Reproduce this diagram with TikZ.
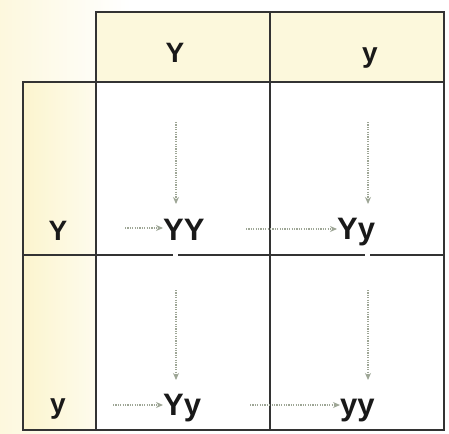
\documentclass[tikz,border=0pt]{standalone}
\usepackage{fontspec}
\setmainfont{Liberation Sans}
\usetikzlibrary{arrows.meta}
\definecolor{cream}{HTML}{FBF2C2}
\definecolor{hdr}{HTML}{FCF8DC}
\definecolor{gridc}{HTML}{333333}
\definecolor{arrc}{HTML}{9EA696}
\tikzset{
  grid/.style={draw=gridc, line width=1.8pt},
  lbl/.style={anchor=base west, inner sep=0pt, font=\fontsize{31}{32}\selectfont\bfseries, text=black!90},
  hlbl/.style={anchor=base, inner sep=0pt, font=\fontsize{28}{30}\selectfont\bfseries, text=black!90},
  arr/.style={draw=arrc, line width=2.2pt, dash pattern=on 1.2pt off 1.2pt, -{Stealth[length=7pt,width=6pt]}},
}
\begin{document}
\begin{tikzpicture}[x=1pt,y=-1pt]
\useasboundingbox (0,0) rectangle (449,433);
\fill[white] (0,0) rectangle (449,433);
\shade[left color=cream!55, middle color=cream, right color=white] (0,0) rectangle (130,433);
\fill[white] (96,82) rectangle (444,430);
% header cells
\shade[left color=hdr, middle color=white!60!hdr, right color=hdr] (96,12) rectangle (444,82);
% left column cells
\shade[left color=cream!80, middle color=white!50!cream, right color=white!70!cream] (23,82) rectangle (96,430);
% grid lines
\draw[grid] (96,12) rectangle (444,82);
\draw[grid] (270,12) -- (270,430);
\draw[grid] (23,82) rectangle (444,430);
\draw[grid] (96,82) -- (96,430);
\draw[grid] (23,255) -- (444,255);
\fill[white] (173,252) rectangle (178,258);
\fill[white] (365,252) rectangle (370,258);
% texts
\node[hlbl] (hY) at (175,63) {Y};
\node[hlbl] (hy) at (370,63) {y};
\node[hlbl] (lY) at (58,240) {Y};
\node[hlbl] (ly) at (58,413) {y};
\node[lbl] (YY) at (163,240) {YY};
\node[lbl] (Yy1) at (337,239) {Yy};
\node[lbl] (Yy2) at (163,415) {Yy};
\node[lbl] (yy) at (340,415) {yy};
% arrow start coordinates
\coordinate (a1s) at (176,122); \coordinate (a1e) at (176,204);
\coordinate (a2s) at (125,228);
\coordinate (a3s) at (368,122); \coordinate (a3e) at (368,204);
\coordinate (a4s) at (246,229);
\coordinate (a5s) at (176,290); \coordinate (a5e) at (176,380);
\coordinate (a6s) at (113,405);
\coordinate (a7s) at (368,290); \coordinate (a7e) at (368,380);
\coordinate (a8s) at (250,405);
\draw[arr] (a1s) -- (a1e);
\draw[arr] (a2s) -- (YY.west |- a2s);
\draw[arr] (a3s) -- (a3e);
\draw[arr] (a4s) -- (Yy1.west |- a4s);
\draw[arr] (a5s) -- (a5e);
\draw[arr] (a6s) -- (Yy2.west |- a6s);
\draw[arr] (a7s) -- (a7e);
\draw[arr] (a8s) -- (yy.west |- a8s);
\end{tikzpicture}
\end{document}
